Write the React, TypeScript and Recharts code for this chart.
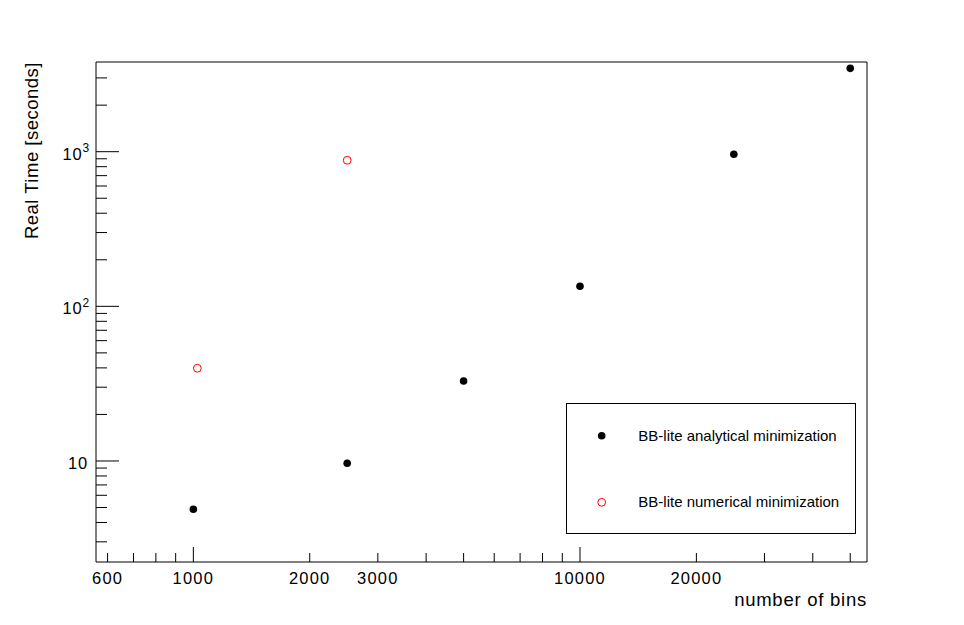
import React from 'react';
import { ScatterChart, Scatter, XAxis, YAxis, ReferenceArea, Legend } from 'recharts';

// ---- data ----
const analyticalName = 'BB-lite analytical minimization';
const analyticalBins = [1000, 2500, 5000, 10000, 25000, 50000];
const analyticalTime = [4.87, 9.66, 32.9, 134.8, 962, 3460];

const numericalName = 'BB-lite numerical minimization';
const numericalBins = [1024, 2500];
const numericalTime = [39.8, 880];

const xDomain = [560, 55250];
const yDomain = [2.222, 3802];

const xTicks = [600, 700, 800, 900, 1000, 2000, 3000, 4000, 5000, 6000, 7000, 8000, 9000, 10000, 20000, 30000, 40000, 50000];
const xMajorTicks = [1000, 10000];
const xLabelTicks = [600, 1000, 2000, 3000, 10000, 20000];
const xTickLabels = ['600', '1000', '2000', '3000', '10000', '20000'];

const yTicks = [3, 4, 5, 6, 7, 8, 9, 10, 20, 30, 40, 50, 60, 70, 80, 90, 100, 200, 300, 400, 500, 600, 700, 800, 900, 1000, 2000, 3000];
const yMajorTicks = [10, 100, 1000];
const yTickBases = ['10', '10', '10'];
const yTickExponents = ['', '2', '3'];

const xTitle = 'number of bins';
const yTitle = 'Real Time [seconds]';

const analyticalData = analyticalBins.map((b, i) => ({ bins: b, time: analyticalTime[i] }));
const numericalData = numericalBins.map((b, i) => ({ bins: b, time: numericalTime[i] }));

const FONT = '"Liberation Sans", Arial, Helvetica, sans-serif';

const XTick = (props: any) => {
  const { x, y, payload } = props;
  const v = payload.value;
  const major = xMajorTicks.includes(v);
  const len = major ? 15 : 9;
  const li = xLabelTicks.indexOf(v);
  return (
    <g>
      <line x1={x} x2={x} y1={y} y2={y - len} stroke="#000" strokeWidth={1} />
      {li >= 0 && (
        <text x={x} y={y + 21.5} textAnchor="middle" fontFamily={FONT} fontSize={16.5} letterSpacing={1.2} fill="#000">
          {xTickLabels[li]}
        </text>
      )}
    </g>
  );
};

const YTick = (props: any) => {
  const { x, y, payload } = props;
  const v = payload.value;
  const mi = yMajorTicks.indexOf(v);
  const len = mi >= 0 ? 23 : 11;
  return (
    <g>
      <line x1={x} x2={x + len} y1={y} y2={y} stroke="#000" strokeWidth={1} />
      {mi >= 0 && (
        yTickExponents[mi] === '' ? (
          <text x={x - 8} y={y + 8} textAnchor="end" fontFamily={FONT} fontSize={16.5} letterSpacing={0.8} fill="#000">
            {yTickBases[mi]}
          </text>
        ) : (
          <text x={x - 6} y={y + 8} textAnchor="end" fontFamily={FONT} fontSize={16.5} letterSpacing={0.8} fill="#000">
            {yTickBases[mi]}
            <tspan dy={-7.5} fontSize={12}>{yTickExponents[mi]}</tspan>
          </text>
        )
      )}
    </g>
  );
};

const XTitle = (props: any) => {
  const vb = props.viewBox || { x: 96, y: 562, width: 771, height: 63 };
  return (
    <text x={vb.x + vb.width} y={vb.y + 44} textAnchor="end" fontFamily={FONT} fontSize={18.5} letterSpacing={0.75} fill="#000">
      {xTitle}
    </text>
  );
};

const YTitle = (props: any) => {
  const vb = props.viewBox || { x: 0, y: 62, width: 96, height: 500 };
  const cx = vb.x + 37.5;
  const cy = vb.y;
  return (
    <text x={cx} y={cy} transform={`rotate(-90, ${cx}, ${cy})`} textAnchor="end" fontFamily={FONT} fontSize={18.5} letterSpacing={0.5} fill="#000">
      {yTitle}
    </text>
  );
};

const FilledDot = (props: any) => <circle cx={props.cx} cy={props.cy} r={3.8} fill="#000" />;
const OpenDot = (props: any) => <circle cx={props.cx} cy={props.cy} r={3.9} fill="none" stroke="#ff0000" strokeWidth={1} />;

const LegendBox = () => (
  <svg width={290} height={131} style={{ display: 'block' }}>
    <rect x={0.5} y={0.5} width={289} height={130} fill="#fff" stroke="#000" strokeWidth={1} />
    <circle cx={35.7} cy={32.7} r={3.8} fill="#000" />
    <text x={72.3} y={37.7} fontFamily={FONT} fontSize={15} fill="#000">{analyticalName}</text>
    <circle cx={35.7} cy={99.3} r={3.9} fill="none" stroke="#ff0000" strokeWidth={1} />
    <text x={72.3} y={104.3} fontFamily={FONT} fontSize={15} fill="#000">{numericalName}</text>
  </svg>
);

export default function App() {
  return (
    <div style={{ position: 'absolute', left: 0, top: 0, width: 964, height: 625, background: '#fff' }}>
      <ScatterChart width={964} height={625} margin={{ top: 62, right: 97, bottom: 0, left: 0 }}>
        <XAxis
          type="number"
          dataKey="bins"
          scale="log"
          domain={xDomain}
          allowDataOverflow
          ticks={xTicks}
          interval={0}
          tick={<XTick />}
          tickLine={false}
          axisLine={false}
          tickSize={0}
          tickMargin={0}
          height={63}
          label={<XTitle />}
        />
        <YAxis
          type="number"
          dataKey="time"
          scale="log"
          domain={yDomain}
          allowDataOverflow
          ticks={yTicks}
          interval={0}
          tick={<YTick />}
          tickLine={false}
          axisLine={false}
          tickSize={0}
          tickMargin={0}
          width={96}
          label={<YTitle />}
        />
        <ReferenceArea x1={xDomain[0]} x2={xDomain[1]} y1={yDomain[0]} y2={yDomain[1]} fill="none" fillOpacity={0} stroke="#000" strokeWidth={1} ifOverflow="visible" />
        <Scatter name={analyticalName} data={analyticalData} shape={<FilledDot />} isAnimationActive={false} />
        <Scatter name={numericalName} data={numericalData} shape={<OpenDot />} isAnimationActive={false} />
        <Legend
          layout="horizontal"
          verticalAlign="middle"
          align="center"
          content={<LegendBox />}
          wrapperStyle={{ position: 'absolute', left: 566, top: 403, width: 290, height: 131 }}
        />
      </ScatterChart>
    </div>
  );
}
